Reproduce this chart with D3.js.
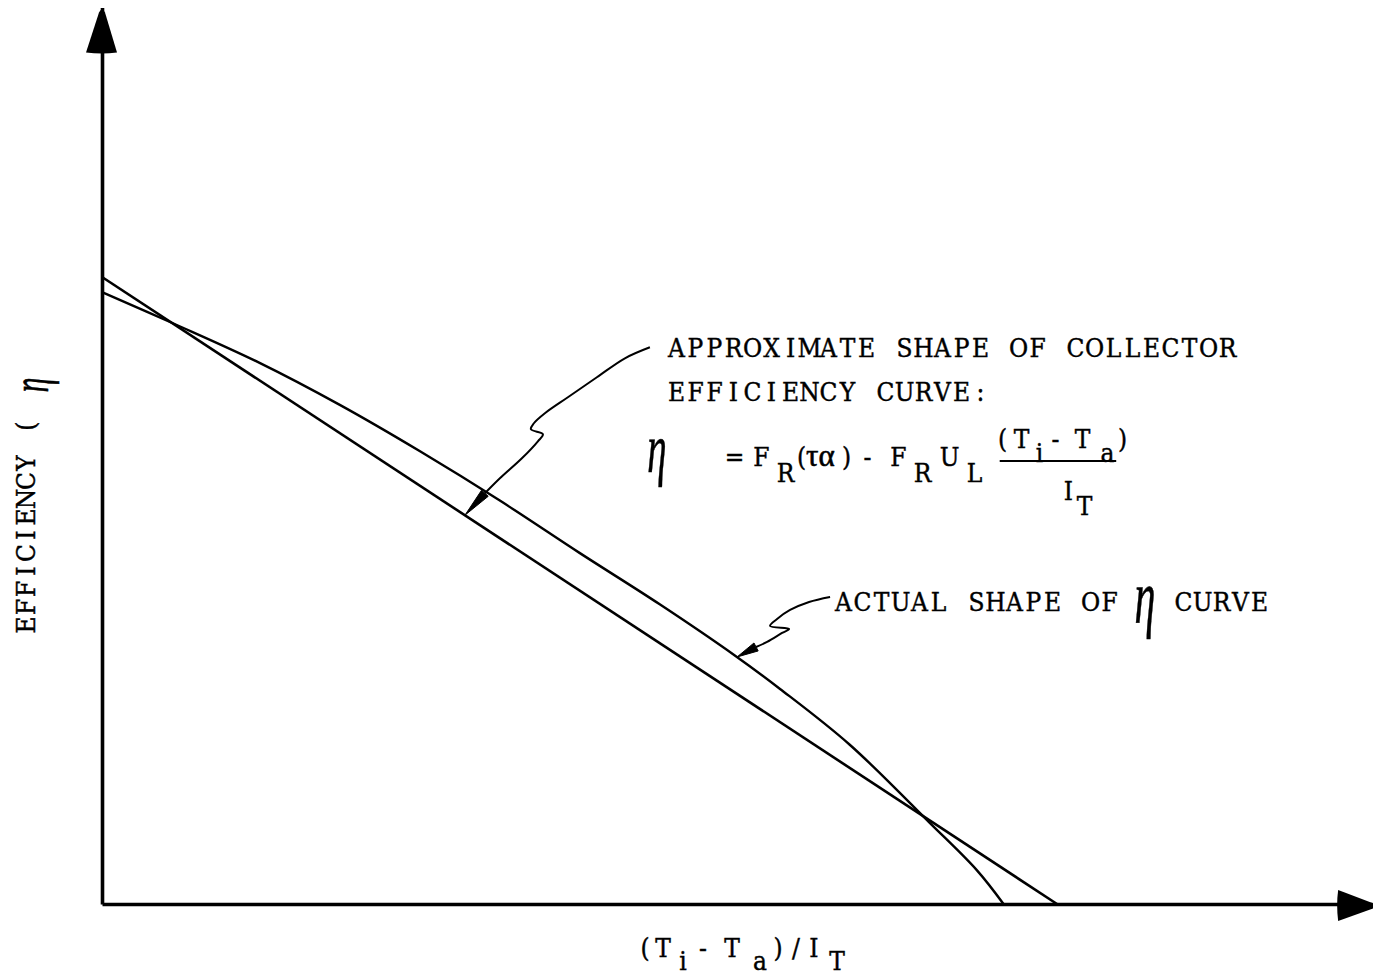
<!DOCTYPE html>
<html>
<head>
<meta charset="utf-8">
<script src="https://cdn.jsdelivr.net/npm/d3@7"></script>
<style>
  html, body { margin: 0; padding: 0; background: #fff; }
  svg { display: block; }
  .type { font-family: "DejaVu Serif", "Liberation Serif", serif; fill: #000; stroke: #000; stroke-width: 0.45; }
  .greek { font-family: "Liberation Serif", "DejaVu Serif", serif; fill: #000; stroke: #000; stroke-width: 0.6; }
</style>
</head>
<body>
<script>
// Linear (approximate) collector efficiency line: eta vs (Ti - Ta)/IT, normalised units
const approxX = [0, 1];
const approxY = [1, 0];

// Actual (curved) efficiency characteristic
const actualX = [0, 0.076, 0.165, 0.249, 0.333, 0.417, 0.5, 0.584, 0.663, 0.71, 0.783, 0.867, 0.916, 0.944];
const actualY = [0.976, 0.925, 0.863, 0.796, 0.722, 0.643, 0.56, 0.478, 0.396, 0.343, 0.254, 0.129, 0.054, 0];

// Extent of the axes (arrow ends), in the same units
const axisMaxX = [1.33];
const axisMaxY = [1.43];

// Annotation anchor points (where the leader arrows touch the lines)
const approxAnchor = [0.38, 0.62];
const actualAnchor = [0.665, 0.394];

// Text
const approxLabel = ["APPROXIMATE SHAPE OF COLLECTOR", "EFFICIENCY CURVE:"];
const actualLabel = ["ACTUAL SHAPE OF", "CURVE"];
const yTitle = "EFFICIENCY  (";
const eta = "\u03B7";

const W = 1373, H = 978;
const svg = d3.select("body").append("svg").attr("width", W).attr("height", H);

const x = d3.scaleLinear().domain([0, 1]).range([102, 1057]);
const y = d3.scaleLinear().domain([0, 1]).range([904, 277]);

// ---- axes ----
const xAxisScale = d3.scaleLinear().domain([0, axisMaxX[0]]).range([x(0), x(axisMaxX[0])]);
const yAxisScale = d3.scaleLinear().domain([0, axisMaxY[0]]).range([y(0), y(axisMaxY[0])]);

svg.append("g").attr("transform", `translate(0,${y(0)})`)
  .call(d3.axisBottom(xAxisScale).tickValues([]).tickSizeOuter(0));
svg.append("g").attr("transform", `translate(${x(0)},0)`)
  .call(d3.axisLeft(yAxisScale).tickValues([]).tickSizeOuter(0));
svg.selectAll(".domain").attr("stroke", "#000").attr("stroke-width", 3.6);

// arrow heads on the axes
const ax0 = x(0), ay0 = y(0), yTop = yAxisScale(axisMaxY[0]), xEnd = xAxisScale(axisMaxX[0]);
svg.append("path")
  .attr("d", `M${ax0 - 16},${yTop + 45} L${ax0 - 3},${yTop + 5} Q${ax0},${yTop - 1} ${ax0 + 3},${yTop + 5} L${ax0 + 15},${yTop + 45} Q${ax0},${yTop + 47} ${ax0 - 16},${yTop + 45} Z`)
  .attr("fill", "#000");
svg.append("path")
  .attr("d", `M${xEnd - 34},${ay0 - 14} L${xEnd + 8},${ay0 + 2} L${xEnd - 34},${ay0 + 17} Q${xEnd - 36},${ay0 + 1} ${xEnd - 34},${ay0 - 14} Z`)
  .attr("fill", "#000");

// ---- lines ----
const approxData = approxX.map((d, i) => [d, approxY[i]]);
const actualData = actualX.map((d, i) => [d, actualY[i]]);

const lineGen = d3.line().x(d => x(d[0])).y(d => y(d[1]));
svg.append("path").datum(approxData)
  .attr("d", lineGen)
  .attr("fill", "none").attr("stroke", "#000").attr("stroke-width", 2.6);
svg.append("path").datum(actualData)
  .attr("d", lineGen.curve(d3.curveCatmullRom.alpha(0.5)))
  .attr("fill", "none").attr("stroke", "#000").attr("stroke-width", 2.4);

// ---- leader arrows with a zig-zag ----
function leader(anchor, offsets) {
  const tx = x(anchor[0]), ty = y(anchor[1]);
  const pts = offsets.map(o => [tx + o[0], ty + o[1]]);
  svg.append("path")
    .attr("d", d3.line().curve(d3.curveCatmullRom.alpha(0.5))(pts))
    .attr("fill", "none").attr("stroke", "#000").attr("stroke-width", 2);
  const [bx, by] = pts[pts.length - 1];
  const dx = tx - bx, dy = ty - by, len = Math.hypot(dx, dy);
  const nx = -dy / len, ny = dx / len, hw = 4.5;
  svg.append("path")
    .attr("d", `M${bx + nx * hw},${by + ny * hw} L${tx},${ty} L${bx - nx * hw},${by - ny * hw} Z`)
    .attr("fill", "#000").attr("stroke", "#000").attr("stroke-width", 1);
}
leader(approxAnchor, [[185, -168], [160, -157], [132, -138], [103, -118], [80, -102], [69, -92],
  [66, -86], [78, -81], [73, -74], [57, -57], [35, -37], [20, -22]]);
leader(actualAnchor, [[93, -60], [72, -55], [53, -47], [40, -38], [33, -31], [52, -28],
  [45, -24], [30, -15], [19, -10]]);

// ---- typewriter-style text: every character centred in a fixed-width cell ----
const FS = 26, CELL = 19, SX = 0.9;
const measureCtx = document.createElement("canvas").getContext("2d");
function typeText(str, x0, y0, opts = {}) {
  const size = opts.size || FS, cell = opts.cell || CELL, sx = opts.sx || SX;
  measureCtx.font = `${size}px "DejaVu Serif"`;
  const xs = Array.from(str).map((ch, i) => {
    const w = measureCtx.measureText(ch).width;
    return ((i * cell + cell / 2) / sx - w / 2).toFixed(2);
  });
  const tr = opts.rotate
    ? `translate(${x0},${y0}) rotate(${opts.rotate}) scale(${sx},1)`
    : `translate(${x0},${y0}) scale(${sx},1)`;
  return svg.append("text").attr("class", "type")
    .attr("font-size", size)
    .attr("transform", tr)
    .attr("x", xs.join(" ")).attr("y", 0)
    .text(str);
}
// tall, narrow eta; glyph spans roughly [top, top + h] (or [left, left + h] when rotated)
function greekEta(cx, top, h, rot) {
  const size = h / 0.68;
  const tr = rot
    ? `translate(${top + size * 0.46},${cx}) rotate(${rot}) scale(0.55,1)`
    : `translate(${cx},${top + size * 0.46}) scale(0.55,1)`;
  svg.append("text").attr("class", "greek")
    .attr("font-size", size)
    .attr("font-style", "italic")
    .attr("text-anchor", "middle")
    .attr("transform", tr)
    .text(eta);
}

// approximate-line annotation
typeText(approxLabel[0], 667, 357);
typeText(approxLabel[1], 667, 401);

// formula: eta = FR(ta) - FR UL (Ti - Ta)/IT
greekEta(657, 440, 48);
typeText("=", 725, 466);
typeText("F", 752, 466);
typeText("R", 776, 482);
typeText("(", 792, 466);
svg.append("text").attr("class", "greek").attr("x", 806).attr("y", 466)
  .attr("font-size", 31).text("\u03C4\u03B1");
typeText(")", 837, 466);
typeText("-", 858, 466);
typeText("F", 889, 466);
typeText("R", 913, 482);
typeText("U", 940, 466);
typeText("L", 965, 482);
typeText("(T", 993, 448);
typeText("i", 1030, 462);
typeText("-", 1046, 448);
typeText("T", 1073, 448);
typeText("a", 1098, 462);
typeText(")", 1113, 448);
svg.append("line").attr("x1", x(0.94)).attr("x2", x(1.062)).attr("y1", 461).attr("y2", 461)
  .attr("stroke", "#000").attr("stroke-width", 1.8);
typeText("I", 1059, 500);
typeText("T", 1075, 515);

// actual-curve annotation
typeText(actualLabel[0], 834, 611);
greekEta(1145, 588, 52);
typeText(actualLabel[1], 1174, 611);

// x-axis title: (Ti - Ta)/IT
typeText("(T", 636, 957, { cell: 18 });
typeText("i", 674, 970, { cell: 18 });
typeText("-", 694, 957, { cell: 18 });
typeText("T", 723, 957, { cell: 18 });
typeText("a", 751, 970, { cell: 18 });
typeText(")/I", 769, 957, { cell: 18 });
typeText("T", 828, 970, { cell: 18 });

// y-axis title
typeText(yTitle, 35, 634, { cell: 18, rotate: -90 });
greekEta(385, 24, 36, -90);
</script>
</body>
</html>
